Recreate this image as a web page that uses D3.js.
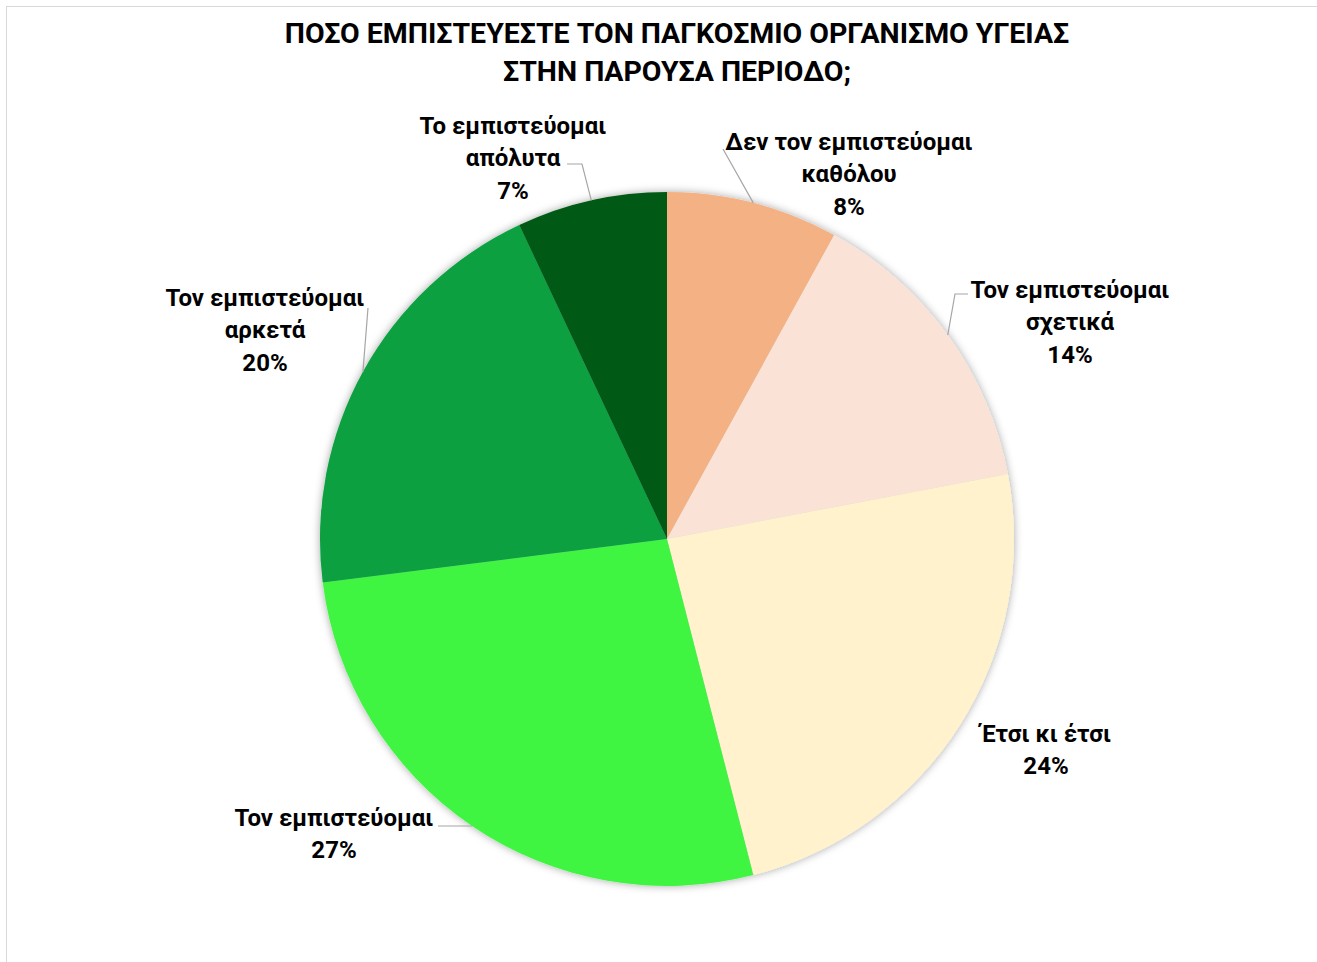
<!DOCTYPE html>
<html>
<head>
<meta charset="utf-8">
<script src="https://cdnjs.cloudflare.com/ajax/libs/d3/7.8.5/d3.min.js"></script>
<style>
  body { margin:0; background:#fff; }
  text { font-family: Roboto, "Noto Sans", sans-serif; font-weight:bold; fill:#000; }
</style>
</head>
<body>
<div id="chart"></div>
<script>
// data
var titleLines = ["ΠΟΣΟ ΕΜΠΙΣΤΕΥΕΣΤΕ ΤΟΝ ΠΑΓΚΟΣΜΙΟ ΟΡΓΑΝΙΣΜΟ ΥΓΕΙΑΣ", "ΣΤΗΝ ΠΑΡΟΥΣΑ ΠΕΡΙΟΔΟ;"];
var categories = [
    ["Δεν τον εμπιστεύομαι", "καθόλου"],
    ["Τον εμπιστεύομαι", "σχετικά"],
    ["Έτσι κι έτσι"],
    ["Τον εμπιστεύομαι"],
    ["Τον εμπιστεύομαι", "αρκετά"],
    ["Το εμπιστεύομαι", "απόλυτα"]
];
var values = [0.08, 0.14, 0.24, 0.27, 0.20, 0.07];
var colors = ["#F4B183", "#FAE3D6", "#FFF2CC", "#41F543", "#08A03F", "#035A14"];

// label placement (centre of first text line) and leader start points, per slice
var labelPos = [[849, 141], [1070, 289], [1046, 733], [334, 817], [265, 297], [513, 125]];
var leaderStart = [
    [[723, 149]],
    [[968, 294], [955, 294]],
    null,
    [[438, 826], [463, 826]],
    [[368, 308]],
    [[567, 164], [582, 164]]
];

var width = 1317, height = 962;
var cx = 667, cy = 539, radius = 347;
var lineH = 32.5;
var pct = d3.format(".0%");

var svg = d3.select("#chart").append("svg")
    .attr("width", width).attr("height", height);

var defs = svg.append("defs");
var f = defs.append("filter").attr("id", "shadow")
    .attr("x", "-10%").attr("y", "-10%").attr("width", "120%").attr("height", "120%");
f.append("feDropShadow").attr("dx", 0).attr("dy", 0).attr("stdDeviation", 4)
    .attr("flood-color", "#000").attr("flood-opacity", 0.35);

// chart border
svg.append("rect").attr("x", 6.5).attr("y", 6.5).attr("width", 1340).attr("height", 1000)
    .style("fill", "none").style("stroke", "#d9d9d9").style("stroke-width", 1);

// title
svg.append("g").selectAll("text").data(titleLines).enter().append("text")
    .attr("x", 677).attr("y", function(d, i){ return 43 + i*38; })
    .attr("text-anchor", "middle")
    .style("font-size", "28.5px")
    .text(function(d){ return d; });

var pie = d3.pie().sort(null).value(function(d){ return d; });
var arcs = pie(values);
var arc = d3.arc().innerRadius(0).outerRadius(radius);

var g = svg.append("g").attr("transform", "translate(" + cx + "," + cy + ")");
g.append("g").attr("filter", "url(#shadow)")
    .selectAll("path").data(arcs).enter().append("path")
    .attr("d", arc)
    .style("fill", function(d, i){ return colors[i]; });

// leader lines
arcs.forEach(function(a, i){
    if(!leaderStart[i]) return;
    var mid = (a.startAngle + a.endAngle)/2;
    var end = [cx + radius*Math.sin(mid), cy - radius*Math.cos(mid)];
    var pts = leaderStart[i].concat([end]);
    svg.append("polyline")
        .attr("points", pts.map(function(p){ return p.join(","); }).join(" "))
        .style("fill", "none").style("stroke", "#a6a6a6").style("stroke-width", 1.2);
});

// labels
var labels = svg.append("g");
arcs.forEach(function(a, i){
    var lines = categories[i].concat([pct(values[i])]);
    var p = labelPos[i];
    labels.append("text")
        .attr("text-anchor", "middle")
        .style("font-size", "24px")
        .selectAll("tspan").data(lines).enter().append("tspan")
        .attr("x", p[0])
        .attr("y", function(d, j){ return p[1] + j*lineH; })
        .attr("dy", "0.36em")
        .text(function(d){ return d; });
});
</script>
</body>
</html>
